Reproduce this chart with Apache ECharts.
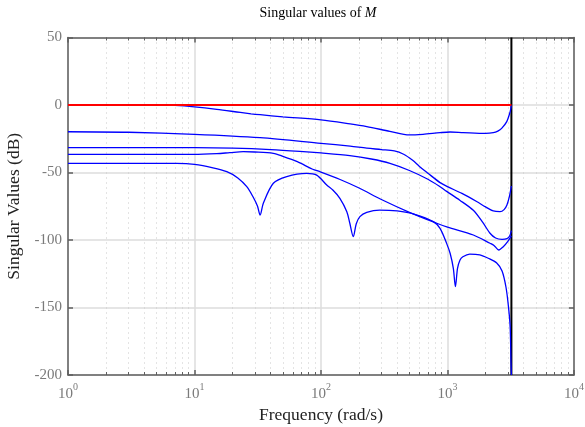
<!DOCTYPE html>
<html><head><meta charset="utf-8">
<script src="https://cdn.jsdelivr.net/npm/echarts@6/dist/echarts.min.js"></script>
<style>html,body{margin:0;padding:0;background:#fff}#c{width:585px;height:427px}</style>
</head><body><div id="c"></div>
<script>
// ---- data ----
const nyquist = 3200;
const yTicks = [-200, -150, -100, -50, 0, 50];
const minorFreqs = [2,3,4,5,6,7,8,9,20,30,40,50,60,70,80,90,200,300,400,500,600,700,800,900,2000,3000,4000,5000,6000,7000,8000,9000];

const freqRed = [1, 3200];
const valRed = [0, 0];

const freqA = [1, 4, 5.4, 7, 10, 15, 23, 28, 33, 50, 100, 170, 230, 350, 500, 640, 873, 1047, 1330, 2000, 2300, 2500, 2680, 2940, 3130, 3200];
const valA  = [0, 0, -0.05, -0.3, -1.4, -3.2, -5.5, -6.5, -7.2, -8.8, -11, -14, -16, -19.5, -22.2, -21.7, -20.5, -20, -20.4, -21, -20.5, -19.3, -17.3, -12.3, -4.9, -0.3];

const freqB = [1, 3, 10, 33, 100, 170, 230, 300, 380, 450, 530, 600, 700, 873, 1000, 1300, 1700, 2000, 2300, 2600, 2800, 2950, 3080, 3200];
const valB  = [-19.8, -20.2, -21.7, -24.2, -28.4, -30.5, -32, -33, -34, -36.5, -41, -45.5, -50.5, -57.5, -60.5, -65.5, -71.5, -75.5, -78.5, -79, -77.5, -74, -68, -60];

const freqC1 = [1, 10, 20, 40, 68, 100, 169, 250, 351, 500, 700, 873, 986, 1250, 1600, 1900, 2168, 2400, 2700, 2950, 3100, 3200];
const valC1  = [-31.5, -31.6, -32, -33, -34.3, -35.5, -37.5, -40, -43.2, -48.5, -55, -60.5, -64, -70.5, -78, -87, -95, -98.5, -99.5, -99, -97, -93];

const freqC2 = [1, 9.8, 15, 19, 24.3, 30, 42, 50, 65, 86, 98, 140, 200, 300, 500, 822, 1000, 1600, 2168, 2330, 2540, 2760, 3000, 3200];
const valC2  = [-36.5, -36.5, -36, -35.3, -34.6, -34.8, -35.8, -38, -42, -47.6, -49.4, -55, -61.5, -70, -79.5, -87.6, -90.5, -96.3, -102.4, -104, -107.4, -105, -101, -97];

const freqC3 = [1, 7.2, 10, 14, 18, 22, 25.9, 29, 31.5, 33, 35, 42, 53.6, 77, 92.5, 111, 124, 141, 160, 169, 180, 190, 203, 230, 291, 400, 550, 772, 873, 984, 1050, 1112, 1155, 1200, 1256, 1322, 1500, 1800, 2100, 2450, 2700, 2900, 3030, 3127, 3177, 3200];
const valC3  = [-43.2, -43.3, -44, -46.5, -49.4, -54, -60.5, -68, -75, -81.5, -72.8, -58, -53, -50.6, -51.9, -59.3, -63, -69.1, -79, -87.6, -97.5, -88, -82.7, -79.5, -77.8, -78.5, -81, -86.4, -91.4, -102.5, -110, -121, -134.6, -121, -114.8, -112.4, -110.4, -111, -113.5, -117, -123, -135, -149, -164, -191, -200];

const freqNyq = [nyquist, nyquist];
const valNyq = [-200, 50];

// ---- chart ----
const pair = (f, v) => f.map((x, i) => [x, v[i]]);
const serif = 'Liberation Serif';
const axisGrey = '#5f5f5f';
const labelGrey = '#7a7a7a';

const chart = echarts.init(document.getElementById('c'), null, {renderer: 'canvas'});
const blue = (name, f, v) => ({
  name, type: 'line', data: pair(f, v), symbol: 'none', smooth: 0.3,
  lineStyle: {color: '#0000ff', width: 1.3}, z: 3, animation: false
});
const logAxis = extra => Object.assign({
  type: 'log', logBase: 10, min: 1, max: 10000,
  axisLine: {show: false, onZero: false},
  axisLabel: {show: false}, splitLine: {show: false}
}, extra);

chart.setOption({
  animation: false,
  backgroundColor: '#fff',
  grid: {left: 68, right: 11, top: 37.5, bottom: 52, containLabel: false, outerBoundsMode: 'none'},
  graphic: [{
    type: 'text', x: 318, y: 13,
    style: {
      text: '{n|Singular values of }{i|M}', align: 'center', verticalAlign: 'middle',
      rich: {
        n: {fontFamily: serif, fontSize: 14, fill: '#000'},
        i: {fontFamily: serif, fontSize: 14, fontStyle: 'italic', fill: '#000'}
      }
    }
  }],
  xAxis: [
    logAxis({
      position: 'bottom',
      name: 'Frequency (rad/s)', nameLocation: 'middle', nameGap: 29,
      nameTextStyle: {fontFamily: serif, fontSize: 17.5, color: '#222'},
      axisLine: {show: true, onZero: false, lineStyle: {color: axisGrey, width: 1.5}},
      axisTick: {show: true, inside: true, length: 5, lineStyle: {color: axisGrey, width: 1.5}},
      axisLabel: {
        show: true, margin: 7, color: labelGrey,
        formatter: v => '{b|10}{s|' + Math.round(Math.log10(v)) + '}',
        rich: {
          b: {fontFamily: serif, fontSize: 15, color: labelGrey, lineHeight: 20, verticalAlign: 'bottom'},
          s: {fontFamily: serif, fontSize: 10, color: labelGrey, lineHeight: 12, verticalAlign: 'top'}
        }
      },
      splitLine: {show: true, lineStyle: {color: '#dcdcdc', width: 1.5}}
    }),
    logAxis({
      position: 'top',
      axisLine: {show: true, onZero: false, lineStyle: {color: axisGrey, width: 1.5}},
      axisTick: {show: true, inside: true, length: 5, lineStyle: {color: axisGrey, width: 1.5}}
    }),
    logAxis({
      position: 'bottom',
      axisTick: {show: true, inside: true, length: 3, customValues: minorFreqs, lineStyle: {color: axisGrey, width: 1}},
      splitLine: {show: true, lineStyle: {color: '#c8c8c8', width: 1, type: [1, 4]}}
    }),
    logAxis({
      position: 'top',
      axisTick: {show: true, inside: true, length: 3, customValues: minorFreqs, lineStyle: {color: axisGrey, width: 1}}
    })
  ],
  yAxis: [
    {
      type: 'value', min: yTicks[0], max: yTicks[yTicks.length - 1], interval: 50, position: 'left',
      name: 'Singular Values (dB)', nameLocation: 'middle', nameGap: 40,
      nameTextStyle: {fontFamily: serif, fontSize: 17.5, color: '#222'},
      axisLine: {show: true, onZero: false, lineStyle: {color: axisGrey, width: 1.5}},
      axisTick: {show: true, inside: true, length: 5, lineStyle: {color: axisGrey, width: 1.5}},
      axisLabel: {margin: 6, fontFamily: serif, fontSize: 15, color: labelGrey},
      splitLine: {show: true, lineStyle: {color: '#dcdcdc', width: 1.5}}
    },
    {
      type: 'value', min: yTicks[0], max: yTicks[yTicks.length - 1], interval: 50, position: 'right',
      axisLine: {show: true, onZero: false, lineStyle: {color: axisGrey, width: 1.5}},
      axisTick: {show: true, inside: true, length: 5, lineStyle: {color: axisGrey, width: 1.5}},
      axisLabel: {show: false}, splitLine: {show: false}
    }
  ],
  series: [
    {name: 'nyquist', type: 'line', data: pair(freqNyq, valNyq), symbol: 'none',
     lineStyle: {color: '#000', width: 2}, z: 2},
    blue('sv5', freqC3, valC3),
    blue('sv4', freqC2, valC2),
    blue('sv3', freqC1, valC1),
    blue('sv2', freqB, valB),
    blue('sv1', freqA, valA),
    {name: 'unit', type: 'line', data: pair(freqRed, valRed), symbol: 'none',
     lineStyle: {color: '#ff0000', width: 2}, z: 4}
  ]
});
</script></body></html>
